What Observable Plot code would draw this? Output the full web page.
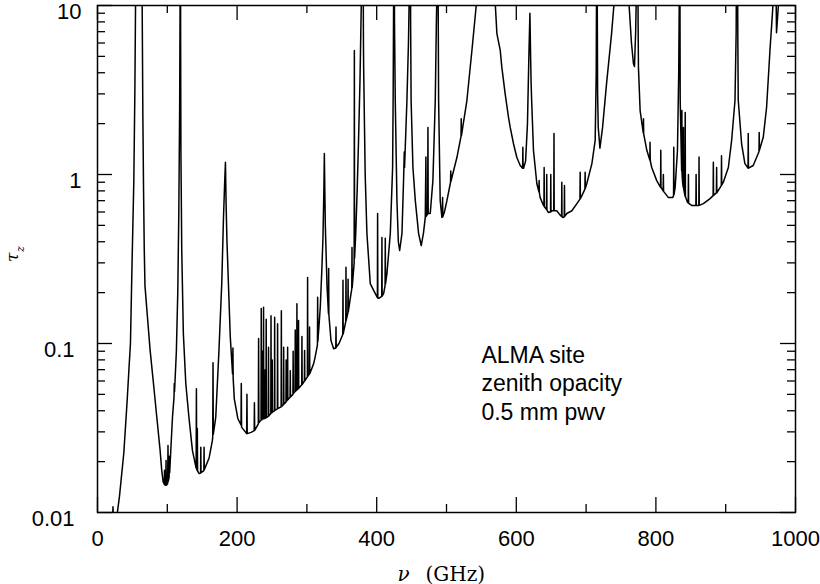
<!DOCTYPE html>
<html>
<head>
<meta charset="utf-8">
<script src="https://cdn.jsdelivr.net/npm/d3@7"></script>
<script src="https://cdn.jsdelivr.net/npm/@observablehq/plot@0.6"></script>
<style>
html, body { margin: 0; padding: 0; background: #ffffff; }
svg { display: block; }
</style>
</head>
<body>
<script>
// ---- data (frequency in GHz, zenith opacity) ----
const freqGHz = [
  15, 20, 21.6, 22.2, 22.8, 26, 28.5, 31.5, 37.7, 42.5, 45, 47.2, 49.5, 52, 53.5, 54.5,
  60, 63, 64, 65, 66, 67, 68, 71.6, 75.4, 80.2, 85, 89.7, 92, 94,
  95.6, 96, 96.4, 97.8, 98.2, 98.6, 100.5, 101, 101.4, 102.6, 103, 103.4,
  105, 107.4, 109.6, 110, 110.4, 113, 115, 116.5, 117.7, 118.3, 118.75, 119.1, 119.5,
  120.7, 123, 126.5, 131, 136, 141.3, 141.7, 142.1, 142.7, 143, 143.4, 145.6,
  147.7, 148, 148.3, 152.4, 152.7, 153, 160, 164.6, 165.1, 165.5, 165.9, 169.4,
  174, 178, 180.5, 182.2, 183.3, 184.3, 185.5, 187.2, 190.2, 193.5, 194, 194.4,
  196, 201, 205.6, 206, 206.4, 213.7, 214.1, 214.5, 220, 224.5, 224.8, 225.2,
  230.4, 230.8, 231.2, 234.3, 234.6, 235, 236, 236.3, 236.6, 237.6, 237.9, 238.2,
  240, 240.3, 240.6, 241.4, 241.7, 242, 244.7, 245, 245.3, 248.3, 248.6, 248.9,
  250, 250.3, 250.6, 253.5, 253.8, 254.1, 257.7, 258, 258.3, 263.1, 263.4, 263.7,
  266.4, 266.7, 267, 270, 270.3, 270.6, 272.1, 272.4, 272.7, 275.9, 276.2, 276.5,
  280, 280.3, 280.6, 283, 283.3, 283.6, 285.4, 285.7, 286, 287.7, 288, 288.3,
  292.6, 292.9, 293.2, 296.4, 296.7, 297, 300.7, 301, 301.3, 303.5, 303.8, 304.1,
  309.7, 312, 315.1, 315.4, 315.7, 317.5, 319.2, 321.5, 323, 324.3, 325, 325.7,
  326.4, 328.8, 330.9, 331.2, 331.5, 334.5, 338.3, 341.4, 341.7, 342, 346,
  351.4, 351.7, 352, 355.7, 356, 356.3, 358.7, 359, 359.3, 363.2, 364.3, 364.6, 364.9,
  367.7, 368, 368.3, 370, 372, 374, 376, 377.5, 378.5, 380.2, 381, 381.3, 383.5,
  386, 390.8, 395.6, 401, 401.3, 401.6, 403, 407.2, 407.5, 407.8, 410, 412, 412.3,
  412.6, 414.7, 419.5, 422.8, 423.6, 424.2, 424.8, 425.5, 426.6, 429, 431, 432.9,
  436.2, 438.6, 439.5, 439.9, 443.3, 445.5, 446.7, 448, 448.6, 449.3, 451.9, 455.3,
  460, 463.8, 467, 469.6, 470.5, 470.9, 473, 473.4, 473.8, 476.7, 480.5, 483.9,
  485.5, 486.3, 487.3, 488, 488.7, 491, 493.4, 494.1, 494.4, 494.7, 497, 500.6,
  505.8, 506.1, 506.4, 507.7, 514.9, 520.8, 521.1, 521.4, 529.2, 536.4, 542.6, 545,
  557, 568, 570, 572.2, 577, 579.3, 584, 588.9, 591.3, 596, 600.8, 605.6,
  609.1, 609.4, 609.7, 610.4, 613.3, 616, 618, 619.5, 620.5, 621.2, 622, 624.6,
  629.4, 632.4, 632.7, 633, 634.2, 639, 639.6, 639.9, 640.2, 643.3, 643.6, 643.9,
  646, 649.1, 649.4, 649.7, 651, 653.7, 654, 654.3, 658, 662.8, 664.9, 665.2, 665.5,
  666.7, 668.7, 669, 669.3, 672.4, 679.6, 686.8, 691.2, 691.5, 691.8, 694, 698.3,
  698.6, 698.9, 701, 708.3, 713, 714.5, 715.4, 716.5, 717.4, 719.8, 723.6, 729.3,
  736.5, 739.8, 745, 752, 760, 761.6, 765, 767.8, 769.3, 771, 771.7, 773.8, 774.5,
  775, 777.4, 781.9, 782.2, 782.5, 787, 791.3, 791.6, 791.9, 794, 801.2, 806.7,
  807, 807.3, 808.4, 810.4, 810.7, 811, 818, 824.2, 825.3, 825.6, 825.9, 827.6,
  830.9, 832.7, 833.4, 834.1, 834.8, 836.9, 837.2, 837.5, 838.4, 839.2, 839.5, 839.8,
  841.7, 842, 842.3, 845.2, 846.3, 846.6, 846.9, 851.3, 857.3, 857.6, 857.9, 861.5,
  861.8, 862.1, 868, 877.6, 882, 882.3, 882.6, 886.7, 887, 887.3, 893.7, 894, 894.3,
  896.6, 903.8, 908.5, 913.3, 915, 916.2, 917.4, 918, 922.8, 927.5, 932, 932.3,
  932.6, 939.4, 946.6, 947.7, 948, 948.3, 953.8, 958.6, 963.4, 967.2, 968.5, 970.3,
  972.8, 975.5, 977.6, 988, 1000
];
const tauZenith = [
  0.0068, 0.0082, 0.0092, 0.0108, 0.0092, 0.0090, 0.0100, 0.0125, 0.0225, 0.046, 0.07, 0.1, 0.3, 0.9, 3, 10,
  80, 25, 10, 2.2, 0.8, 0.36, 0.22, 0.143, 0.091, 0.058, 0.0365, 0.0233, 0.0178, 0.0152,
  0.0147, 0.0178, 0.0146, 0.0145, 0.0203, 0.0145, 0.0148, 0.0249, 0.0153, 0.0162, 0.0215, 0.0172,
  0.0233, 0.0365, 0.048, 0.058, 0.052, 0.09, 0.2, 0.6, 2.5, 10, 60, 6, 1.39,
  0.355, 0.1145, 0.058, 0.0365, 0.0233, 0.0183, 0.054, 0.0181, 0.0178, 0.0314, 0.0176, 0.0170,
  0.0171, 0.0243, 0.0172, 0.0177, 0.0243, 0.0179, 0.0211, 0.0267, 0.028, 0.077, 0.029, 0.0365,
  0.091, 0.226, 0.557, 0.9, 1.18, 0.65, 0.4, 0.25, 0.11, 0.066, 0.094, 0.062,
  0.047, 0.036, 0.033, 0.058, 0.032, 0.0293, 0.050, 0.0293, 0.0298, 0.0305, 0.0446, 0.0306,
  0.0335, 0.107, 0.034, 0.0352, 0.161, 0.0353, 0.0355, 0.09, 0.0357, 0.0358, 0.164, 0.036,
  0.036, 0.07, 0.0362, 0.0363, 0.139, 0.0364, 0.037, 0.095, 0.0372, 0.0385, 0.146, 0.0387,
  0.039, 0.08, 0.0393, 0.040, 0.143, 0.0402, 0.041, 0.131, 0.0412, 0.0422, 0.156, 0.0424,
  0.0435, 0.095, 0.0437, 0.045, 0.08, 0.0455, 0.0462, 0.095, 0.0464, 0.048, 0.069, 0.0482,
  0.050, 0.09, 0.0505, 0.052, 0.12, 0.0522, 0.053, 0.172, 0.0532, 0.054, 0.137, 0.0543,
  0.057, 0.110, 0.0572, 0.060, 0.091, 0.0602, 0.0635, 0.246, 0.064, 0.066, 0.125, 0.0663,
  0.076, 0.084, 0.098, 0.188, 0.103, 0.13, 0.165, 0.28, 0.42, 0.8, 1.33, 0.8,
  0.5, 0.22, 0.15, 0.278, 0.148, 0.104, 0.093, 0.094, 0.125, 0.095, 0.1,
  0.113, 0.237, 0.114, 0.135, 0.283, 0.137, 0.152, 0.24, 0.154, 0.197, 0.21, 0.37, 0.215,
  0.30, 5.42, 0.32, 0.45, 0.8, 1.6, 3.5, 8, 14, 60, 6, 4.3, 1.0,
  0.448, 0.226, 0.206, 0.187, 0.588, 0.186, 0.185, 0.19, 0.424, 0.191, 0.198, 0.22, 0.42,
  0.225, 0.26, 0.448, 1.1, 3, 10, 50, 8, 2.74, 0.70, 0.40, 0.355,
  0.448, 0.96, 1.36, 1.1, 2.74, 6, 12, 100, 8, 2.74, 1.1, 0.70,
  0.448, 0.38, 0.45, 0.557, 1.27, 0.565, 0.585, 1.9, 0.59, 0.588, 0.92, 2.74,
  8, 12, 100, 12, 2.74, 0.70, 0.557, 0.56, 0.73, 0.562, 0.6, 0.70,
  0.9, 1.05, 0.91, 0.96, 1.26, 1.68, 2.14, 1.7, 2.74, 5.42, 10, 30,
  500, 30, 10, 6.82, 5.42, 4.3, 3.01, 2.17, 1.9, 1.52, 1.26, 1.13,
  1.09, 1.45, 1.09, 1.09, 1.2, 2, 5, 9, 5, 3.5, 2.74, 1.39,
  0.885, 0.79, 0.92, 0.78, 0.73, 0.656, 0.65, 1.1, 0.645, 0.62, 1.0, 0.615,
  0.596, 0.60, 1.0, 0.602, 0.61, 0.61, 1.75, 0.61, 0.61, 0.575, 0.565, 0.9, 0.562,
  0.557, 0.56, 0.86, 0.565, 0.588, 0.61, 0.673, 0.715, 1.03, 0.72, 0.75, 0.82,
  1.03, 0.83, 0.885, 1.16, 1.59, 4, 40, 3, 1.9, 1.43, 1.9, 3.45,
  6.82, 10, 40, 500, 30, 10, 6, 4.54, 4.35, 7, 10, 60, 8,
  4.3, 2.39, 1.76, 2.14, 1.74, 1.39, 1.22, 1.55, 1.21, 1.1, 0.92, 0.84,
  1.39, 0.838, 0.826, 0.80, 1.0, 0.795, 0.73, 0.73, 0.75, 1.45, 0.76, 0.84,
  1.39, 4, 10, 60, 2.74, 1.05, 2.39, 1.0, 0.885, 0.84, 1.9, 0.82,
  0.745, 2.33, 0.74, 0.685, 0.68, 1.0, 0.675, 0.656, 0.656, 1.0, 0.656, 0.656,
  1.27, 0.657, 0.673, 0.72, 0.75, 1.18, 0.752, 0.778, 1.1, 0.78, 0.86, 1.29, 0.865,
  0.90, 1.1, 1.59, 2.74, 7, 100, 6, 2.74, 1.52, 1.16, 1.09, 1.75,
  1.09, 1.13, 1.33, 1.37, 1.77, 1.39, 1.66, 2.5, 5.42, 9.3, 12, 60,
  6.9, 10, 30, 500, 200
];

const xMajorTicks = [0, 200, 400, 600, 800, 1000];
const xMinorTicks = [100, 300, 500, 700, 900];
const yMajorTicks = [0.01, 0.1, 1, 10];
const yTickLabels = ["0.01", "0.1", "1", "10"];
const yMinorTicks = [0.02, 0.03, 0.04, 0.05, 0.06, 0.07, 0.08, 0.09,
                     0.2, 0.3, 0.4, 0.5, 0.6, 0.7, 0.8, 0.9,
                     2, 3, 4, 5, 6, 7, 8, 9];
const annotationLines = ["ALMA site", "zenith opacity", "0.5 mm pwv"];
const annotationAt = {freq: 550, tau: 0.1};
const xLabelSymbol = "ν";
const xLabelUnit = "(GHz)";
const yLabelSymbol = "τ";
const yLabelSub = "z";

// ---- layout ----
const W = 820, H = 584;
const mL = 97, mR = 25, mT = 5, mB = 72;
const frameW = W - mL - mR, frameH = H - mT - mB;
const majorLen = 15, minorLen = 8;

const spectrum = freqGHz.map((f, i) => ({f, tau: tauZenith[i]}));
const sans = "'Liberation Sans', Arial, Helvetica, sans-serif";
const serif = "'DejaVu Serif', 'Liberation Serif', serif";
const tickStyle = {stroke: "#000", strokeWidth: 1.3};
const yLabelFmt = d => yTickLabels[yMajorTicks.indexOf(d)];

const chart = Plot.plot({
  width: W, height: H,
  marginLeft: mL, marginRight: mR, marginTop: mT, marginBottom: mB,
  style: {background: "#ffffff", fontFamily: sans, color: "#000"},
  x: {domain: [0, 1000]},
  y: {type: "log", domain: [0.01, 10]},
  marks: [
    Plot.line(spectrum, {x: "f", y: "tau", stroke: "#000", strokeWidth: 1.5, clip: true}),
    // inward ticks, bottom & top
    Plot.tickX(xMajorTicks, {x: d => d, insetTop: frameH - majorLen, ...tickStyle}),
    Plot.tickX(xMinorTicks, {x: d => d, insetTop: frameH - minorLen, ...tickStyle}),
    Plot.tickX(xMajorTicks, {x: d => d, insetBottom: frameH - majorLen, ...tickStyle}),
    Plot.tickX(xMinorTicks, {x: d => d, insetBottom: frameH - minorLen, ...tickStyle}),
    // inward ticks, left & right
    Plot.tickY(yMajorTicks, {y: d => d, insetRight: frameW - majorLen, ...tickStyle}),
    Plot.tickY(yMinorTicks, {y: d => d, insetRight: frameW - minorLen, ...tickStyle}),
    Plot.tickY(yMajorTicks, {y: d => d, insetLeft: frameW - majorLen, ...tickStyle}),
    Plot.tickY(yMinorTicks, {y: d => d, insetLeft: frameW - minorLen, ...tickStyle}),
    Plot.frame({stroke: "#000", strokeWidth: 1.5}),
    // tick labels
    Plot.axisX(xMajorTicks, {anchor: "bottom", tickSize: 0, tickPadding: 18, fontSize: 22, label: null, tickFormat: d => String(d)}),
    Plot.axisY(yMajorTicks.filter(d => d < 1), {anchor: "left", tickSize: 0, tickPadding: 23, fontSize: 22, dy: 6, label: null,
      tickFormat: yLabelFmt}),
    Plot.axisY(yMajorTicks.filter(d => d >= 1), {anchor: "left", tickSize: 0, tickPadding: 16, fontSize: 22, dy: 6, label: null,
      tickFormat: yLabelFmt}),
    // axis titles
    Plot.text([xLabelSymbol], {frameAnchor: "bottom", dx: -43, dy: 68, lineAnchor: "bottom",
      fontFamily: serif, fontStyle: "italic", fontSize: 20}),
    Plot.text([xLabelUnit], {frameAnchor: "bottom", dx: -21, dy: 68, lineAnchor: "bottom", textAnchor: "start",
      fontFamily: serif, fontSize: 20}),
    Plot.text([yLabelSymbol], {frameAnchor: "left", rotate: -90, dx: -80, dy: 3, lineAnchor: "bottom",
      fontFamily: serif, fontStyle: "italic", fontSize: 17}),
    Plot.text([yLabelSub], {frameAnchor: "left", rotate: -90, dx: -74, dy: -7, lineAnchor: "bottom",
      fontFamily: serif, fontStyle: "italic", fontSize: 11}),
    // annotation
    Plot.text([annotationLines.join("\n")], {x: annotationAt.freq, y: annotationAt.tau,
      textAnchor: "start", lineAnchor: "top", fontSize: 23, lineHeight: 1.22})
  ]
});
document.body.appendChild(chart);
</script>
</body>
</html>
